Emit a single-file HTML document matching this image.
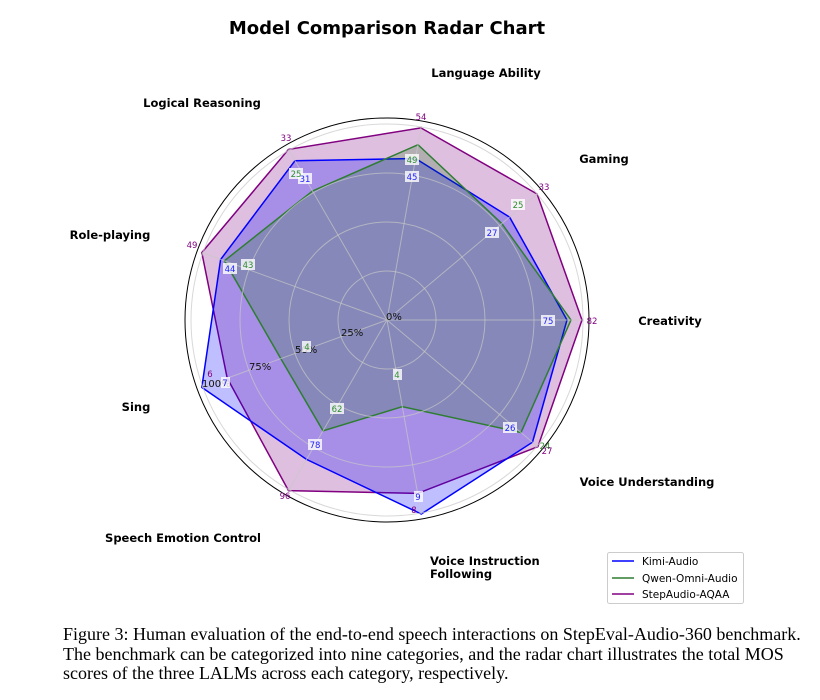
<!DOCTYPE html>
<html><head><meta charset="utf-8"><style>
body{margin:0;background:#fff;width:820px;height:700px;overflow:hidden}
svg text{font-family:"DejaVu Sans","Liberation Sans",sans-serif}
.cap{position:absolute;left:63px;top:625px;font-family:"Liberation Serif",serif;font-size:18px;line-height:19.5px;color:#000;white-space:nowrap}
</style></head><body>
<svg width="820" height="700" style="position:absolute;left:0;top:0">
<text x="387" y="34" text-anchor="middle" font-size="18" font-weight="bold">Model Comparison Radar Chart</text>
<circle cx="387" cy="320" r="202" fill="none" stroke="#000" stroke-width="1"/>
<polygon points="582,320 537.1,194 420.9,127.9 288.5,149.4 201.8,252.6 227.2,378.1 288.5,490.6 417.6,493.4 537.9,446.7" fill="rgba(128,0,128,0.25)" stroke="#800080" stroke-width="1.5"/>
<polygon points="567,320 509.6,217.1 415.5,158.5 295,160.7 220.6,259.5 201.8,387.4 306.5,459.4 421.3,514 532.5,442.2" fill="rgba(0,0,255,0.25)" stroke="#0000ff" stroke-width="1.5"/>
<polygon points="571,320 501.9,223.6 418,144.7 312.5,191 224.4,260.8 280.8,358.6 323,430.8 402.3,406.7 521,432.5" fill="rgba(0,110,0,0.2)" stroke="#2e7d32" stroke-width="1.5"/>
<g fill="none" stroke="#c8c8c8" stroke-opacity="0.7" stroke-width="1">
<circle cx="387" cy="320" r="49"/><circle cx="387" cy="320" r="98"/><circle cx="387" cy="320" r="147"/><circle cx="387" cy="320" r="196"/>
<path d="M387 320L584 320M387 320L537.9 193.3M387 320L421.3 126M387 320L288.5 149.4M387 320L201.8 252.6M387 320L201.8 387.4M387 320L288.5 490.6M387 320L421.3 514M387 320L537.9 446.7"/>
</g>
<g font-size="10" fill="#111">
<text x="386" y="320">0%</text><text x="341" y="336">25%</text><text x="295" y="353">50%</text><text x="249" y="370">75%</text><text x="202" y="387">100%</text>
</g>
<g font-size="8.5" text-anchor="middle">
<g fill="#fff" fill-opacity="0.8">
<rect x="405" y="154" width="14" height="11"/><rect x="289" y="168" width="14" height="11"/><rect x="511" y="199" width="14" height="11"/><rect x="241" y="259" width="14" height="11"/><rect x="302" y="341" width="9" height="11"/><rect x="393" y="369" width="9" height="11"/><rect x="330" y="403" width="14" height="11"/>
<rect x="405" y="171" width="14" height="11"/><rect x="298" y="173" width="14" height="11"/><rect x="485" y="227" width="14" height="11"/><rect x="223" y="263" width="14" height="11"/><rect x="541" y="315" width="14" height="11"/><rect x="221" y="377" width="9" height="11"/><rect x="308" y="439" width="14" height="11"/><rect x="414" y="491" width="9" height="11"/><rect x="503" y="422" width="14" height="11"/>
</g>
<g fill="#2e8b2e"><text x="412" y="163">49</text><text x="296" y="177">25</text><text x="518" y="208">25</text><text x="248" y="268">43</text><text x="307" y="350">4</text><text x="397" y="378">4</text><text x="337" y="412">62</text><text x="545" y="449">24</text></g>
<g fill="#2020ff"><text x="412" y="180">45</text><text x="305" y="182">31</text><text x="492" y="236">27</text><text x="230" y="272">44</text><text x="548" y="324">75</text><text x="225" y="386">7</text><text x="315" y="448">78</text><text x="418" y="500">9</text><text x="510" y="431">26</text></g>
<g fill="#800080"><text x="421" y="120">54</text><text x="286" y="141">33</text><text x="544" y="190">33</text><text x="192" y="248">49</text><text x="592" y="324">82</text><text x="210" y="377">6</text><text x="285" y="499">96</text><text x="414" y="513">8</text><text x="547" y="454">27</text></g>
</g>
<g font-size="11.5" font-weight="bold" fill="#000">
<text x="486" y="77" text-anchor="middle">Language Ability</text>
<text x="202" y="107" text-anchor="middle">Logical Reasoning</text>
<text x="604" y="163" text-anchor="middle">Gaming</text>
<text x="110" y="239" text-anchor="middle">Role-playing</text>
<text x="670" y="325" text-anchor="middle">Creativity</text>
<text x="136" y="411" text-anchor="middle">Sing</text>
<text x="647" y="486" text-anchor="middle">Voice Understanding</text>
<text x="183" y="542" text-anchor="middle">Speech Emotion Control</text>
<text x="430" y="565">Voice Instruction</text>
<text x="430" y="578">Following</text>
</g>
<rect x="607.5" y="552.5" width="136" height="51" fill="#fff" stroke="#ccc" rx="2"/>
<line x1="612" y1="561" x2="634" y2="561" stroke="#0000ff" stroke-width="1.5"/>
<line x1="612" y1="578" x2="634" y2="578" stroke="#2e7d32" stroke-width="1.5"/>
<line x1="612" y1="594" x2="634" y2="594" stroke="#800080" stroke-width="1.5"/>
<g font-size="10.5" fill="#000"><text x="642" y="565">Kimi-Audio</text><text x="642" y="582">Qwen-Omni-Audio</text><text x="642" y="598">StepAudio-AQAA</text></g>
</svg>
<div class="cap">Figure 3: Human evaluation of the end-to-end speech interactions on StepEval-Audio-360 benchmark.<br>The benchmark can be categorized into nine categories, and the radar chart illustrates the total MOS<br>scores of the three LALMs across each category, respectively.</div>
</body></html>
